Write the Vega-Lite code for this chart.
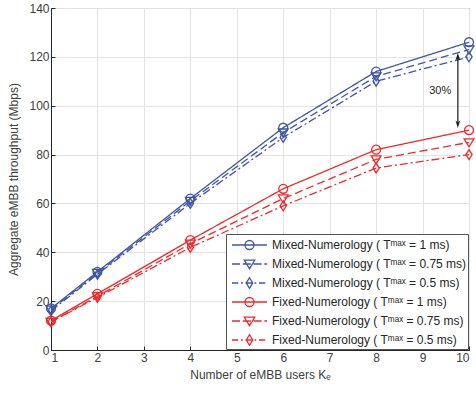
{
  "$schema": "https://vega.github.io/schema/vega-lite/v6.json",
  "autosize": {"type": "none"},
  "padding": {"left": 51, "top": 8, "right": 7, "bottom": 49},
  "width": 418,
  "height": 342,
  "config": {
    "font": "Liberation Sans",
    "view": {"stroke": "#262626", "strokeWidth": 1},
    "axis": {
      "labelFont": "Liberation Sans", "titleFont": "Liberation Sans",
      "labelFontSize": 12, "titleFontSize": 12, "labelColor": "#404040", "titleColor": "#404040",
      "titleFontWeight": "normal", "domainColor": "#262626", "tickColor": "#262626",
      "gridColor": "#e3e3e3", "grid": true, "tickSize": -4, "labelPadding": 6
    },
    "legend": {
      "title": null, "orient": "bottom-right", "offset": 1, "symbolOpacity": 1, "symbolSize": 324, "symbolStrokeWidth": 1.3,
      "symbolOffset": 12.5, "labelOffset": 12.5,
      "labelFontSize": 12, "labelFont": "Liberation Sans", "labelColor": "#262626", "labelLimit": 300,
      "strokeColor": "#555555", "fillColor": "white", "padding": 1, "rowPadding": 1, "symbolFillColor": "transparent"
    }
  },
  "datasets": {
    "lines": [
      {"k": 1, "v": 17, "s": "Mixed-Numerology ( Tᵐᵃˣ = 1 ms)"},
      {"k": 2, "v": 32, "s": "Mixed-Numerology ( Tᵐᵃˣ = 1 ms)"},
      {"k": 4, "v": 62, "s": "Mixed-Numerology ( Tᵐᵃˣ = 1 ms)"},
      {"k": 6, "v": 91, "s": "Mixed-Numerology ( Tᵐᵃˣ = 1 ms)"},
      {"k": 8, "v": 114, "s": "Mixed-Numerology ( Tᵐᵃˣ = 1 ms)"},
      {"k": 10, "v": 126, "s": "Mixed-Numerology ( Tᵐᵃˣ = 1 ms)"},
      {"k": 1, "v": 16.5, "s": "Mixed-Numerology ( Tᵐᵃˣ = 0.75 ms)"},
      {"k": 2, "v": 31.5, "s": "Mixed-Numerology ( Tᵐᵃˣ = 0.75 ms)"},
      {"k": 4, "v": 61, "s": "Mixed-Numerology ( Tᵐᵃˣ = 0.75 ms)"},
      {"k": 6, "v": 89, "s": "Mixed-Numerology ( Tᵐᵃˣ = 0.75 ms)"},
      {"k": 8, "v": 112, "s": "Mixed-Numerology ( Tᵐᵃˣ = 0.75 ms)"},
      {"k": 10, "v": 123, "s": "Mixed-Numerology ( Tᵐᵃˣ = 0.75 ms)"},
      {"k": 1, "v": 16, "s": "Mixed-Numerology ( Tᵐᵃˣ = 0.5 ms)"},
      {"k": 2, "v": 31, "s": "Mixed-Numerology ( Tᵐᵃˣ = 0.5 ms)"},
      {"k": 4, "v": 60, "s": "Mixed-Numerology ( Tᵐᵃˣ = 0.5 ms)"},
      {"k": 6, "v": 87, "s": "Mixed-Numerology ( Tᵐᵃˣ = 0.5 ms)"},
      {"k": 8, "v": 110, "s": "Mixed-Numerology ( Tᵐᵃˣ = 0.5 ms)"},
      {"k": 10, "v": 120, "s": "Mixed-Numerology ( Tᵐᵃˣ = 0.5 ms)"},
      {"k": 1, "v": 12, "s": "Fixed-Numerology ( Tᵐᵃˣ = 1 ms)"},
      {"k": 2, "v": 23, "s": "Fixed-Numerology ( Tᵐᵃˣ = 1 ms)"},
      {"k": 4, "v": 45, "s": "Fixed-Numerology ( Tᵐᵃˣ = 1 ms)"},
      {"k": 6, "v": 66, "s": "Fixed-Numerology ( Tᵐᵃˣ = 1 ms)"},
      {"k": 8, "v": 82, "s": "Fixed-Numerology ( Tᵐᵃˣ = 1 ms)"},
      {"k": 10, "v": 90, "s": "Fixed-Numerology ( Tᵐᵃˣ = 1 ms)"},
      {"k": 1, "v": 11.5, "s": "Fixed-Numerology ( Tᵐᵃˣ = 0.75 ms)"},
      {"k": 2, "v": 22, "s": "Fixed-Numerology ( Tᵐᵃˣ = 0.75 ms)"},
      {"k": 4, "v": 43.5, "s": "Fixed-Numerology ( Tᵐᵃˣ = 0.75 ms)"},
      {"k": 6, "v": 62, "s": "Fixed-Numerology ( Tᵐᵃˣ = 0.75 ms)"},
      {"k": 8, "v": 78, "s": "Fixed-Numerology ( Tᵐᵃˣ = 0.75 ms)"},
      {"k": 10, "v": 85, "s": "Fixed-Numerology ( Tᵐᵃˣ = 0.75 ms)"},
      {"k": 1, "v": 11.5, "s": "Fixed-Numerology ( Tᵐᵃˣ = 0.5 ms)"},
      {"k": 2, "v": 21.5, "s": "Fixed-Numerology ( Tᵐᵃˣ = 0.5 ms)"},
      {"k": 4, "v": 42, "s": "Fixed-Numerology ( Tᵐᵃˣ = 0.5 ms)"},
      {"k": 6, "v": 59, "s": "Fixed-Numerology ( Tᵐᵃˣ = 0.5 ms)"},
      {"k": 8, "v": 74.5, "s": "Fixed-Numerology ( Tᵐᵃˣ = 0.5 ms)"},
      {"k": 10, "v": 80, "s": "Fixed-Numerology ( Tᵐᵃˣ = 0.5 ms)"}
    ],
    "arrow": [
      {"k": 9.76, "v": 120, "end": "top"},
      {"k": 9.76, "v": 92.5, "end": "bottom"}
    ],
    "label": [{"k": 9.38, "v": 106, "t": "30%"}]
  },
  "layer": [
    {
      "data": {"name": "lines"},
      "mark": {"type": "line", "strokeWidth": 1.3},
      "encoding": {
        "x": {"field": "k", "type": "quantitative", "scale": {"domain": [1, 10]}, "axis": {"values": [1,2,3,4,5,6,7,8,9,10], "title": "Number of eMBB users  Kₑ", "titlePadding": 6}},
        "y": {"field": "v", "type": "quantitative", "scale": {"domain": [0, 140]}, "axis": {"values": [0,20,40,60,80,100,120,140], "title": "Aggregate eMBB throughput (Mbps)", "titlePadding": 8}},
        "color": {"field": "s", "type": "nominal", "legend": null, "scale": {
          "domain": ["Mixed-Numerology ( Tᵐᵃˣ = 1 ms)", "Mixed-Numerology ( Tᵐᵃˣ = 0.75 ms)", "Mixed-Numerology ( Tᵐᵃˣ = 0.5 ms)", "Fixed-Numerology ( Tᵐᵃˣ = 1 ms)", "Fixed-Numerology ( Tᵐᵃˣ = 0.75 ms)", "Fixed-Numerology ( Tᵐᵃˣ = 0.5 ms)"],
          "range": ["#3F55A5", "#3F55A5", "#3F55A5", "#EE2A2D", "#EE2A2D", "#EE2A2D"]}},
        "strokeDash": {"field": "s", "type": "nominal", "legend": null, "scale": {
          "domain": ["Mixed-Numerology ( Tᵐᵃˣ = 1 ms)", "Mixed-Numerology ( Tᵐᵃˣ = 0.75 ms)", "Mixed-Numerology ( Tᵐᵃˣ = 0.5 ms)", "Fixed-Numerology ( Tᵐᵃˣ = 1 ms)", "Fixed-Numerology ( Tᵐᵃˣ = 0.75 ms)", "Fixed-Numerology ( Tᵐᵃˣ = 0.5 ms)"],
          "range": [[1, 0], [8, 4], [8, 3, 2, 3], [1, 0], [8, 4], [8, 3, 2, 3]]}}
      }
    },
    {
      "data": {"name": "lines"},
      "mark": {"type": "point", "filled": false, "strokeWidth": 1.3, "size": 80, "opacity": 1},
      "encoding": {
        "x": {"field": "k", "type": "quantitative"},
        "y": {"field": "v", "type": "quantitative"},
        "color": {"field": "s", "type": "nominal", "legend": null, "scale": {
          "domain": ["Mixed-Numerology ( Tᵐᵃˣ = 1 ms)", "Mixed-Numerology ( Tᵐᵃˣ = 0.75 ms)", "Mixed-Numerology ( Tᵐᵃˣ = 0.5 ms)", "Fixed-Numerology ( Tᵐᵃˣ = 1 ms)", "Fixed-Numerology ( Tᵐᵃˣ = 0.75 ms)", "Fixed-Numerology ( Tᵐᵃˣ = 0.5 ms)"],
          "range": ["#3F55A5", "#3F55A5", "#3F55A5", "#EE2A2D", "#EE2A2D", "#EE2A2D"]}},
        "shape": {"field": "s", "type": "nominal", "legend": null, "scale": {
          "domain": ["Mixed-Numerology ( Tᵐᵃˣ = 1 ms)", "Mixed-Numerology ( Tᵐᵃˣ = 0.75 ms)", "Mixed-Numerology ( Tᵐᵃˣ = 0.5 ms)", "Fixed-Numerology ( Tᵐᵃˣ = 1 ms)", "Fixed-Numerology ( Tᵐᵃˣ = 0.75 ms)", "Fixed-Numerology ( Tᵐᵃˣ = 0.5 ms)"],
          "range": ["circle", "M-1.1,-0.8L1.1,-0.8L0,1Z", "M0,-1.1L0.7,0L0,1.1L-0.7,0Z", "circle", "M-1.1,-0.8L1.1,-0.8L0,1Z", "M0,-1.1L0.7,0L0,1.1L-0.7,0Z"]}}
      }
    },
    {
      "data": {"name": "lines"},
      "mark": {"type": "point", "filled": false, "strokeWidth": 1.3, "opacity": 0},
      "encoding": {
        "x": {"field": "k", "type": "quantitative"},
        "y": {"field": "v", "type": "quantitative"},
        "color": {"field": "s", "type": "nominal", "scale": {
          "domain": ["Mixed-Numerology ( Tᵐᵃˣ = 1 ms)", "Mixed-Numerology ( Tᵐᵃˣ = 0.75 ms)", "Mixed-Numerology ( Tᵐᵃˣ = 0.5 ms)", "Fixed-Numerology ( Tᵐᵃˣ = 1 ms)", "Fixed-Numerology ( Tᵐᵃˣ = 0.75 ms)", "Fixed-Numerology ( Tᵐᵃˣ = 0.5 ms)"],
          "range": ["#3F55A5", "#3F55A5", "#3F55A5", "#EE2A2D", "#EE2A2D", "#EE2A2D"]}},
        "shape": {"field": "s", "type": "nominal",
          "scale": {
          "domain": ["Mixed-Numerology ( Tᵐᵃˣ = 1 ms)", "Mixed-Numerology ( Tᵐᵃˣ = 0.75 ms)", "Mixed-Numerology ( Tᵐᵃˣ = 0.5 ms)", "Fixed-Numerology ( Tᵐᵃˣ = 1 ms)", "Fixed-Numerology ( Tᵐᵃˣ = 0.75 ms)", "Fixed-Numerology ( Tᵐᵃˣ = 0.5 ms)"],
          "range": [
            "M-1.95,0H1.95M0.5,0A0.5,0.5 0 1 1 -0.5,0A0.5,0.5 0 1 1 0.5,0",
            "M-1.95,0H-1.05M-0.75,0H0.15M0.45,0H1.35M1.65,0H1.95M-0.58,-0.42L0.58,-0.42L0,0.52Z",
            "M-1.95,0H-1.25M-0.95,0H-0.75M-0.45,0H0.25M0.55,0H0.75M1.05,0H1.75M0,-0.58L0.36,0L0,0.58L-0.36,0Z",
            "M-1.95,0H1.95M0.5,0A0.5,0.5 0 1 1 -0.5,0A0.5,0.5 0 1 1 0.5,0",
            "M-1.95,0H-1.05M-0.75,0H0.15M0.45,0H1.35M1.65,0H1.95M-0.58,-0.42L0.58,-0.42L0,0.52Z",
            "M-1.95,0H-1.25M-0.95,0H-0.75M-0.45,0H0.25M0.55,0H0.75M1.05,0H1.75M0,-0.58L0.36,0L0,0.58L-0.36,0Z"
          ]}}
      }
    },
    {
      "data": {"name": "arrow"},
      "mark": {"type": "rule", "color": "#1a1a1a", "strokeWidth": 1.2},
      "encoding": {
        "x": {"field": "k", "type": "quantitative", "aggregate": "min"},
        "y": {"field": "v", "type": "quantitative", "aggregate": "max"},
        "y2": {"field": "v", "aggregate": "min"}
      }
    },
    {
      "data": {"name": "arrow"},
      "mark": {"type": "point", "filled": true, "color": "#1a1a1a", "size": 60, "opacity": 1},
      "encoding": {
        "x": {"field": "k", "type": "quantitative"},
        "y": {"field": "v", "type": "quantitative"},
        "shape": {"field": "end", "type": "nominal", "legend": null, "scale": {"domain": ["top", "bottom"], "range": ["M0,-1L0.6,0.9L0,0.4L-0.6,0.9Z", "M0,1L0.6,-0.9L0,-0.4L-0.6,-0.9Z"]}}
      }
    },
    {
      "data": {"name": "label"},
      "mark": {"type": "text", "fontSize": 11, "font": "Liberation Sans", "color": "#262626"},
      "encoding": {
        "x": {"field": "k", "type": "quantitative"},
        "y": {"field": "v", "type": "quantitative"},
        "text": {"field": "t"}
      }
    }
  ],
  "resolve": {"scale": {"shape": "independent", "color": "independent", "strokeDash": "independent"}}
}
